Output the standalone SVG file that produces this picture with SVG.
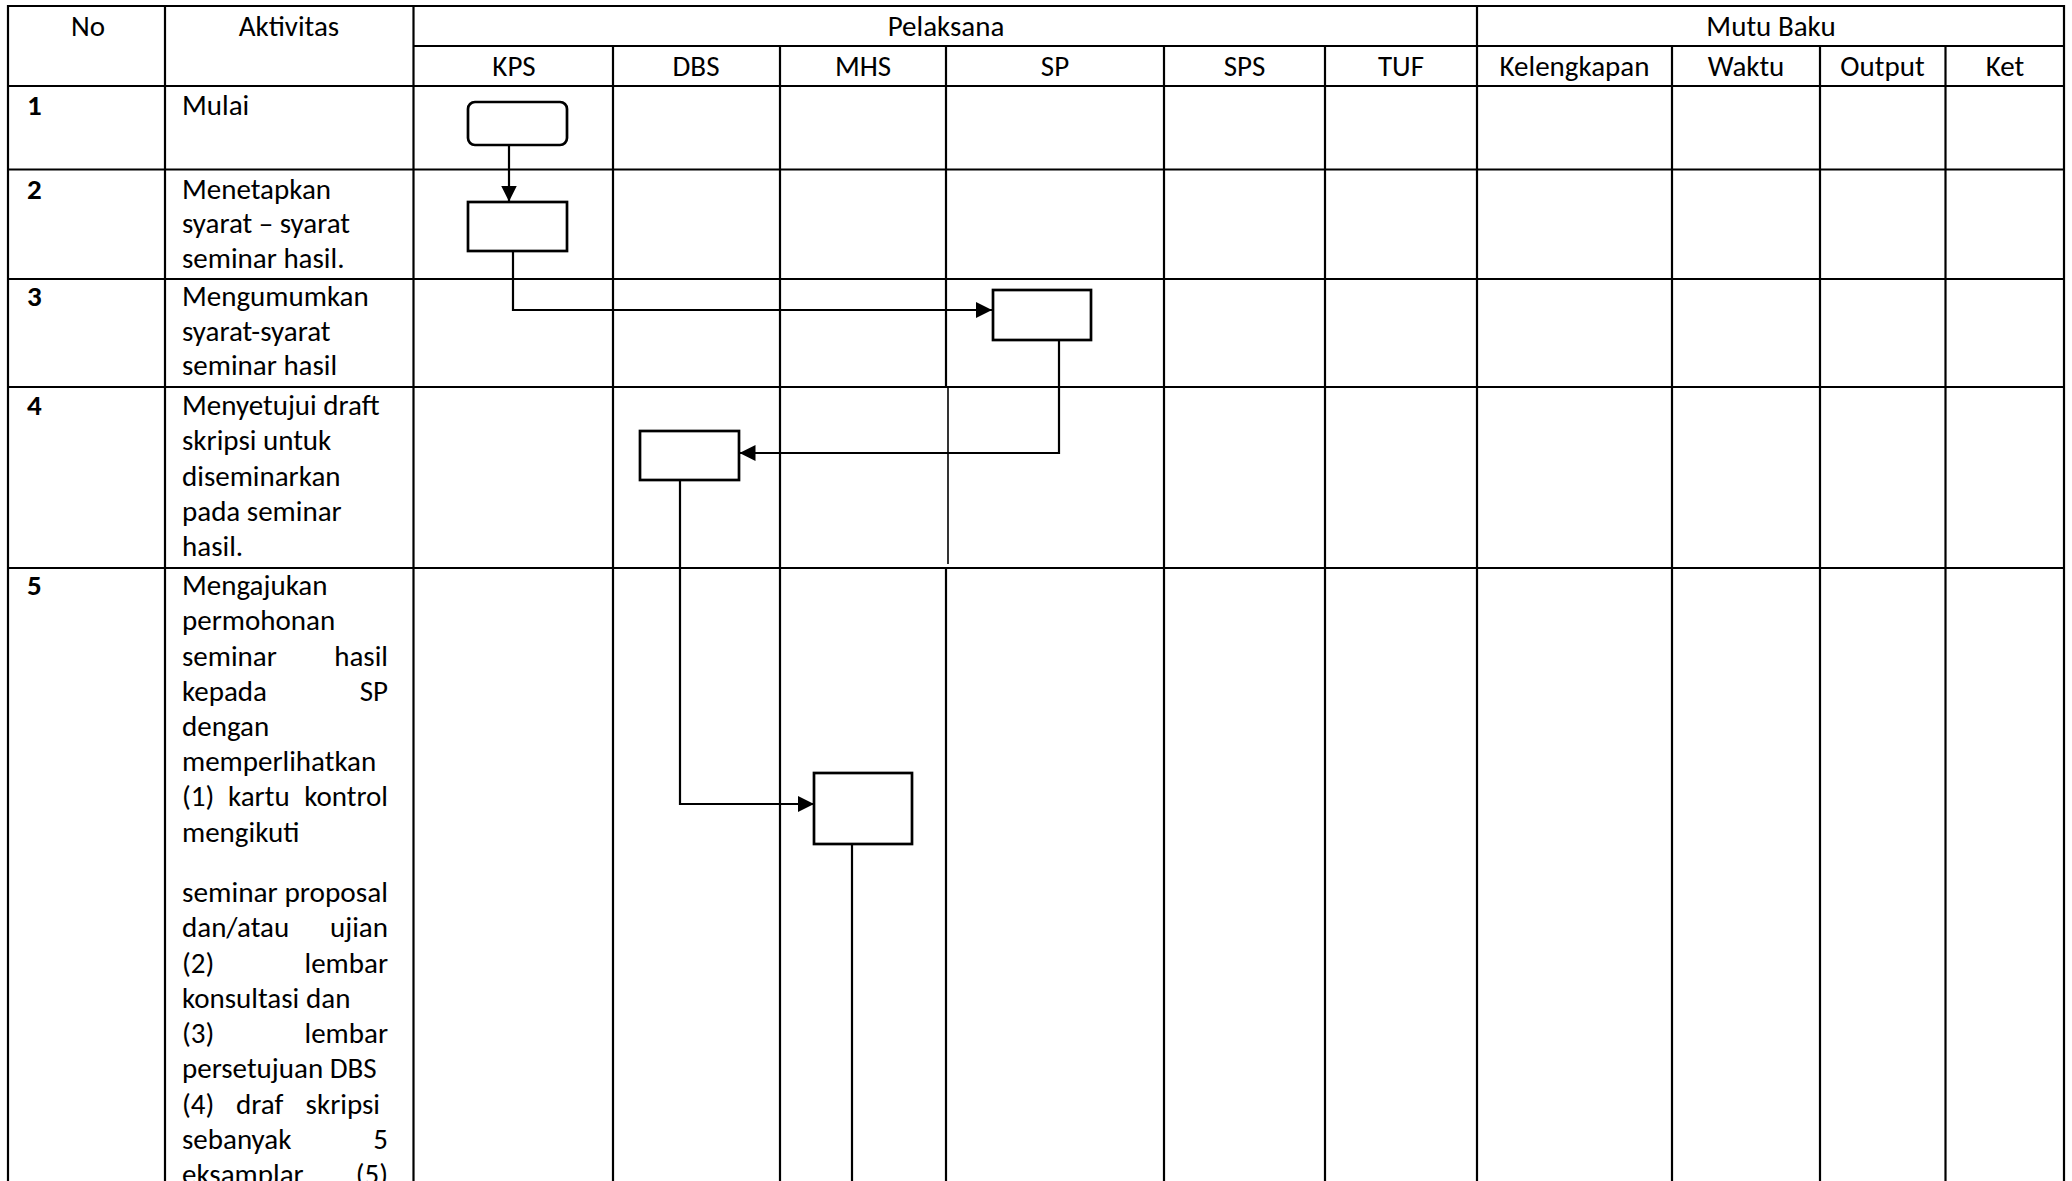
<svg xmlns="http://www.w3.org/2000/svg" width="2072" height="1181" viewBox="0 0 2072 1181">
<style>
.t{font-family:Carlito,Lato,"Liberation Sans",sans-serif;font-size:29px;fill:#000}
.c{text-anchor:middle}
.e{text-anchor:end}
.b{font-weight:bold}
.g{stroke:#000;stroke-width:2.2;fill:none}
.n{stroke:#000;stroke-width:2.7;fill:#fff}
.k{stroke:#000;stroke-width:2.2;fill:none}
</style>
<defs>
<marker id="ah" markerUnits="userSpaceOnUse" markerWidth="17" markerHeight="17" refX="16" refY="8" orient="auto">
<path d="M0,0 L16,8 L0,16 z" fill="#000"/>
</marker>
</defs>
<rect width="2072" height="1181" fill="#fff"/>
<g id="grid" class="g">
<line x1="7" y1="6" x2="2065" y2="6"/>
<line x1="413.5" y1="46" x2="2065" y2="46"/>
<line x1="7" y1="86" x2="2065" y2="86"/>
<line x1="7" y1="169.5" x2="2065" y2="169.5"/>
<line x1="7" y1="279" x2="2065" y2="279"/>
<line x1="7" y1="387" x2="2065" y2="387"/>
<line x1="7" y1="568" x2="2065" y2="568"/>
<line x1="8" y1="5" x2="8" y2="1181"/>
<line x1="165" y1="5" x2="165" y2="1181"/>
<line x1="413.5" y1="5" x2="413.5" y2="1181"/>
<line x1="613" y1="46" x2="613" y2="1181"/>
<line x1="780" y1="46" x2="780" y2="1181"/>
<line x1="946" y1="46" x2="946" y2="387"/>
<line x1="948" y1="387" x2="948" y2="564" stroke-width="1.6"/>
<line x1="946" y1="568" x2="946" y2="1181"/>
<line x1="1164" y1="46" x2="1164" y2="1181"/>
<line x1="1325" y1="46" x2="1325" y2="1181"/>
<line x1="1477" y1="5" x2="1477" y2="1181"/>
<line x1="1672" y1="46" x2="1672" y2="1181"/>
<line x1="1820" y1="46" x2="1820" y2="1181"/>
<line x1="1945.5" y1="46" x2="1945.5" y2="1181"/>
<line x1="2064" y1="5" x2="2064" y2="1181"/>
</g>
<g id="headers" class="t">
<text class="t c" x="88" y="36">No</text>
<text class="t c" x="289" y="36">Aktivitas</text>
<text class="t c" x="946" y="36">Pelaksana</text>
<text class="t c" x="1771" y="36">Mutu Baku</text>
<text class="t c" x="514" y="76">KPS</text>
<text class="t c" x="696" y="76">DBS</text>
<text class="t c" x="863" y="76">MHS</text>
<text class="t c" x="1055" y="76">SP</text>
<text class="t c" x="1244.5" y="76">SPS</text>
<text class="t c" x="1401" y="76">TUF</text>
<text class="t c" x="1574.5" y="76">Kelengkapan</text>
<text class="t c" x="1746" y="76">Waktu</text>
<text class="t c" x="1882.5" y="76">Output</text>
<text class="t c" x="2005" y="76">Ket</text>
</g>
<g id="rows">
<text class="t b" x="27" y="115">1</text>
<text class="t b" x="27" y="198.5">2</text>
<text class="t b" x="27" y="306">3</text>
<text class="t b" x="27" y="415">4</text>
<text class="t b" x="27" y="595">5</text>
<text class="t" x="182" y="115">Mulai</text>
<text class="t" x="182" y="198.5">Menetapkan</text>
<text class="t" x="182" y="233">syarat – syarat</text>
<text class="t" x="182" y="268">seminar hasil.</text>
<text class="t" x="182" y="306">Mengumumkan</text>
<text class="t" x="182" y="340.5">syarat-syarat</text>
<text class="t" x="182" y="375">seminar hasil</text>
<text class="t" x="182" y="415">Menyetujui draft</text>
<text class="t" x="182" y="450">skripsi untuk</text>
<text class="t" x="182" y="485.5">diseminarkan</text>
<text class="t" x="182" y="521">pada seminar</text>
<text class="t" x="182" y="556">hasil.</text>
<text class="t" x="182" y="595">Mengajukan</text>
<text class="t" x="182" y="630">permohonan</text>
<text class="t" x="182" y="665.5">seminar</text><text class="t e" x="388" y="665.5">hasil</text>
<text class="t" x="182" y="700.5">kepada</text><text class="t e" x="388" y="700.5">SP</text>
<text class="t" x="182" y="736">dengan</text>
<text class="t" x="182" y="771">memperlihatkan</text>
<text class="t" x="182" y="806">(1)</text><text class="t" x="228" y="806">kartu</text><text class="t e" x="388" y="806">kontrol</text>
<text class="t" x="182" y="841.5">mengikuti</text>
<text class="t" x="182" y="902" textLength="206" lengthAdjust="spacingAndGlyphs">seminar proposal</text>
<text class="t" x="182" y="937">dan/atau</text><text class="t e" x="388" y="937">ujian</text>
<text class="t" x="182" y="972.5">(2)</text><text class="t e" x="388" y="972.5">lembar</text>
<text class="t" x="182" y="1008">konsultasi</text><text class="t" x="306" y="1008">dan</text>
<text class="t" x="182" y="1043">(3)</text><text class="t e" x="388" y="1043">lembar</text>
<text class="t" x="182" y="1078">persetujuan DBS</text>
<text class="t" x="182" y="1113.5">(4)</text><text class="t" x="236" y="1113.5">draf</text><text class="t e" x="380" y="1113.5">skripsi</text>
<text class="t" x="182" y="1148.5">sebanyak</text><text class="t e" x="388" y="1148.5">5</text>
<text class="t" x="182" y="1184">eksamplar</text><text class="t e" x="388" y="1184">(5)</text>
</g>
<g id="connectors" class="k">
<path d="M509,145 V201.5" marker-end="url(#ah)"/>
<path d="M513,251 V310 H992" marker-end="url(#ah)"/>
<path d="M1059,340 V453 H739.5" marker-end="url(#ah)"/>
<path d="M680,478 V804 H814" marker-end="url(#ah)"/>
<path d="M852,844 V1181"/>
</g>
<g id="node-mulai"><rect class="n" x="468" y="102" width="99" height="43" rx="7"/></g>
<g id="node-kps-tetapkan"><rect class="n" x="468" y="202" width="99" height="49"/></g>
<g id="node-sp-umumkan"><rect class="n" x="993" y="290" width="98" height="50"/></g>
<g id="node-dbs-setujui"><rect class="n" x="640" y="431" width="99" height="49"/></g>
<g id="node-mhs-ajukan"><rect class="n" x="814" y="773" width="98" height="71"/></g>
</svg>
